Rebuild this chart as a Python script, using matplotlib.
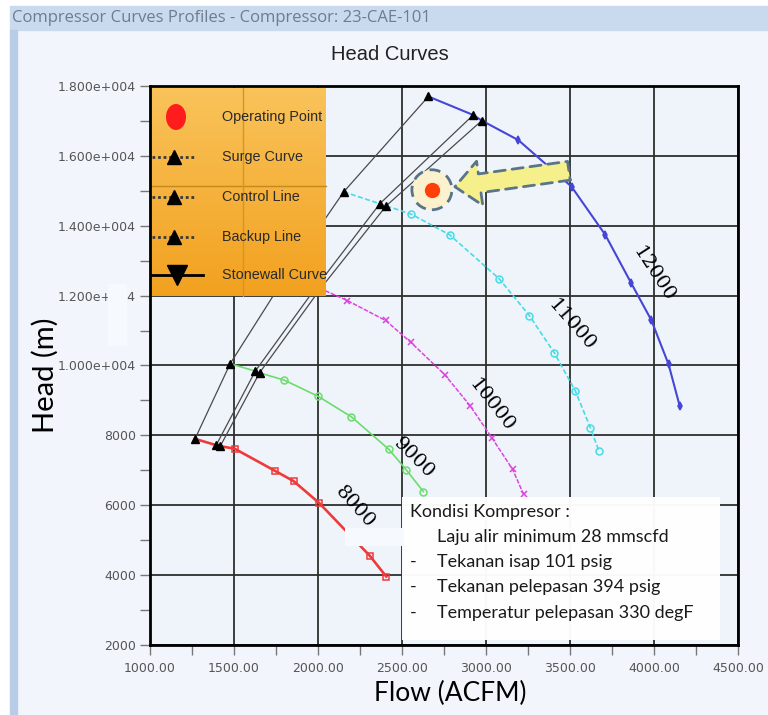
"""Compressor head curves (23-CAE-101): speed lines, surge / control / backup
lines, operating point and the condition note, drawn like the screenshot."""

import numpy as np
import matplotlib
matplotlib.use("Agg")
import matplotlib.pyplot as plt
from matplotlib.colors import LinearSegmentedColormap
from matplotlib.patches import Rectangle, Ellipse, FancyArrowPatch
from matplotlib.ticker import MultipleLocator, FuncFormatter

# ---- data ------------------------------------------------------------------
speeds = [8000, 9000, 10000, 11000, 12000]

# surge / control / backup points, one per speed line (ACFM, m)
surge_flow = [1268, 1477, 1800, 2153, 2657]
surge_head = [7900, 10050, 12500, 14970, 17700]
control_flow = [1394, 1627, 1990, 2368, 2924]
control_head = [7720, 9840, 12250, 14630, 17170]
backup_flow = [1418, 1652, 2015, 2406, 2975]
backup_head = [7690, 9790, 12200, 14570, 17010]

# marked points on each speed line, right of the backup point
flow_8000 = [1503, 1746, 1855, 2008, 2309, 2406]
head_8000 = [7620, 6980, 6690, 6060, 4550, 3960]
flow_9000 = [1800, 2000, 2199, 2422, 2526, 2627]
head_9000 = [9580, 9120, 8530, 7600, 7010, 6390]
flow_10000 = [2174, 2402, 2551, 2754, 2905, 3035, 3158, 3224]
head_10000 = [11860, 11290, 10670, 9740, 8850, 7930, 7030, 6310]
flow_11000 = [2556, 2784, 3079, 3258, 3407, 3532, 3621, 3673]
head_11000 = [14330, 13740, 12480, 11430, 10360, 9270, 8220, 7540]
flow_12000 = [3193, 3509, 3710, 3864, 3984, 4087, 4153]
head_12000 = [16450, 15120, 13740, 12360, 11300, 10030, 8840]

op_flow = 2678
op_head = 15030

legend_labels = ["Operating Point", "Surge Curve", "Control Line",
                 "Backup Line", "Stonewall Curve"]
note_title = "Kondisi Kompresor :"
note_lines = ["Laju alir minimum 28 mmscfd", "Tekanan isap 101 psig",
              "Tekanan pelepasan 394 psig", "Temperatur pelepasan 330 degF"]
note_bullets = ["", "-", "-", "-"]

# ---- styles -----------------------------------------------------------------
curve_flows = [flow_8000, flow_9000, flow_10000, flow_11000, flow_12000]
curve_heads = [head_8000, head_9000, head_10000, head_11000, head_12000]
curve_style = [
    dict(color="#EE3A3A", lw=1.9, ls="-", marker="s", ms=5, mfc="none"),
    dict(color="#6BDD6B", lw=1.2, ls="-", marker="o", ms=5, mfc="none"),
    dict(color="#DD44DD", lw=1.1, ls=(0, (3, 1)), marker="x", ms=5, mfc="none"),
    dict(color="#45DCE6", lw=1.2, ls=(0, (3, 1.5)), marker="o", ms=5, mfc="none"),
    dict(color="#4646D6", lw=1.5, ls="-", marker="d", ms=4, mfc="#4646D6"),
]
# where the rotated speed labels sit (flow, head, angle)
label_pos = [(2220, 5960, -48), (2573, 7350, -45), (3034, 8850, -52),
             (3510, 11160, -49), (4000, 12620, -57)]

BG = "#F2F6FC"
W, H = 768, 715
AX_L, AX_R, AX_T, AX_B = 150, 738, 86, 645   # plot box in screenshot pixels
fig = plt.figure(figsize=(7.68, 7.15), dpi=100, facecolor=BG)


def fig_rect(x0, y0, x1, y1, **kw):
    """rectangle given in screenshot pixels (top-left origin)."""
    fig.patches.append(Rectangle((x0 / W, 1 - y1 / H), (x1 - x0) / W, (y1 - y0) / H,
                                 transform=fig.transFigure, **kw))


def axp(px, py):
    """screenshot pixel -> axes fraction."""
    return (px - AX_L) / (AX_R - AX_L), (AX_B - py) / (AX_B - AX_T)


# window chrome
fig_rect(0, 0, W, 6, color="white", zorder=0)
fig_rect(0, 0, 10, H, color="white", zorder=0)
fig_rect(10, 6, W, 30, color="#C9D9EE", zorder=0)
fig_rect(10, 30, 17, H, color="#B8CCE8", zorder=0)
fig.text(12 / W, 1 - 18 / H, "Compressor Curves Profiles - Compressor: 23-CAE-101",
         fontsize=12, family="Open Sans", color="#6F7C8D", va="center")
fig.text(390 / W, 1 - 55 / H, "Head Curves", fontsize=14.5, family="Liberation Sans",
         color="#222222", ha="center", va="center")

ax = fig.add_axes([AX_L / W, (H - AX_B) / H, (AX_R - AX_L) / W, (AX_B - AX_T) / H])
ax.set_facecolor("#EFF4FB")
ax.set_xlim(1000, 4500)
ax.set_ylim(2000, 18000)
ax.xaxis.set_major_locator(MultipleLocator(500))
ax.xaxis.set_minor_locator(MultipleLocator(250))
ax.yaxis.set_major_locator(MultipleLocator(2000))
ax.yaxis.set_minor_locator(MultipleLocator(1000))
ax.xaxis.set_major_formatter(FuncFormatter(lambda v, p: f"{v:.2f}"))


def head_fmt(v, p):
    if v >= 10000:
        e = int(np.floor(np.log10(v)))
        return f"{v / 10 ** e:.3f}e+{e:03d}"
    return f"{v:.0f}"


ax.yaxis.set_major_formatter(FuncFormatter(head_fmt))
ax.tick_params(which="both", direction="out", length=7, width=1, color="#777777")
ax.tick_params(axis="x", labelsize=9, labelcolor="#555555", pad=5)
ax.tick_params(axis="y", labelsize=9, labelcolor="#555555", pad=3)
for s in ax.spines.values():
    s.set_linewidth(2)
    s.set_color("black")
    s.set_zorder(11)
ax.grid(True, which="major", color="#2E2E2E", lw=1.3)
ax.set_axisbelow(True)

# speed lines: surge -> control -> backup -> marked points
for i, sp in enumerate(speeds):
    fx = [surge_flow[i], control_flow[i], backup_flow[i]] + curve_flows[i]
    hy = [surge_head[i], control_head[i], backup_head[i]] + curve_heads[i]
    st = curve_style[i]
    ax.plot(fx, hy, color=st["color"], lw=st["lw"], ls=st["ls"], marker=st["marker"],
            ms=st["ms"], mfc=st["mfc"], mec=st["color"], mew=1.1,
            markevery=list(range(3, len(fx))), zorder=3)
    lx, ly, rot = label_pos[i]
    ax.text(lx, ly, str(sp), rotation=rot, fontsize=14, family="DejaVu Serif",
            ha="center", va="center", rotation_mode="anchor", zorder=4)

# surge, control and backup lines across the speeds
for fx, hy in [(surge_flow, surge_head), (control_flow, control_head),
               (backup_flow, backup_head)]:
    ax.plot(fx, hy, color="#4A4A4A", lw=0.9, marker="^", ms=6, mfc="black",
            mec="black", zorder=4)

# operating point with dashed ring and the pointing arrow
ox, oy = ax.transData.transform((op_flow, op_head))
inv = ax.transData.inverted()
rx = inv.transform((ox + 20, oy))[0] - op_flow
ry = inv.transform((ox, oy + 20))[1] - op_head
ax.add_patch(Ellipse((op_flow, op_head), 2 * rx, 2 * ry, fc="#FBF1CC", ec="#587387",
                     lw=2, ls=(0, (4, 2.5)), zorder=5))
ax.plot([op_flow], [op_head], "o", color="#FF3F0A", ms=10, zorder=6)
tail = inv.transform((ox + 137, oy + 19))
tip = inv.transform((ox + 23, oy + 3))
ax.add_patch(FancyArrowPatch(tail, tip,
                             arrowstyle="simple,head_length=0.9,head_width=1.6,tail_width=0.68",
                             mutation_scale=20, shrinkA=0, shrinkB=0, fc="#F6F08C",
                             ec="#5A7488", lw=2, ls=(0, (4, 2.5)), zorder=5))

# legend box (orange gradient, drawn by hand to match the screenshot)
lx0, ly1 = axp(151, 88)
lx1, ly0 = axp(326, 296)
grad = LinearSegmentedColormap.from_list("leg", ["#F2A11F", "#F9C35A"])
ax.imshow(np.linspace(0, 1, 64).reshape(-1, 1), cmap=grad, origin="lower",
          extent=[lx0, lx1, ly0, ly1], transform=ax.transAxes, aspect="auto",
          zorder=8, interpolation="bilinear")
ax.plot([lx0, lx1], [axp(0, 186)[1]] * 2, transform=ax.transAxes, color="#C7891E",
        lw=1, zorder=8.5)
ax.plot([axp(243, 0)[0]] * 2, [ly0, ly1], transform=ax.transAxes, color="#D9941F",
        lw=1, zorder=8.5)
row_y = [117, 157, 197, 237, 275]
cx, cy = axp(176, row_y[0])
ax.add_patch(Ellipse((cx, cy), 20 / (AX_R - AX_L), 26 / (AX_B - AX_T),
                     transform=ax.transAxes, fc="#FF1C1C", ec="none", zorder=9))
for py in row_y[1:4]:
    xa, ya = axp(152, py)
    xb, _ = axp(196, py)
    ax.plot([xa, xb], [ya, ya], transform=ax.transAxes, ls=(0, (1, 1)), lw=2,
            color="#3A3A3A", zorder=9)
    ax.plot([axp(174, py)[0]], [ya], transform=ax.transAxes, marker="^", ms=10,
            color="black", ls="none", zorder=9)
xa, ya = axp(152, row_y[4])
xb, _ = axp(203, row_y[4])
ax.plot([xa, xb], [ya, ya], transform=ax.transAxes, lw=2, color="black", zorder=9)
ax.plot([axp(177, row_y[4])[0]], [ya], transform=ax.transAxes, marker="v", ms=15,
        color="black", ls="none", zorder=9)
for lab, py in zip(legend_labels, row_y):
    tx, ty = axp(222, py)
    ax.text(tx, ty, lab, transform=ax.transAxes, fontsize=10.4, family="Liberation Sans",
            va="center", color="#2A2A2A", zorder=10)
ax.set_xlim(1000, 4500)
ax.set_ylim(2000, 18000)

# condition note
ax.add_patch(Rectangle((0.4286, 0.009), 0.541, 0.256, transform=ax.transAxes,
                       fc="white", ec="none", alpha=0.97, zorder=7))
ax.add_patch(Rectangle((0.3316, 0.177), 0.10, 0.032, transform=ax.transAxes,
                       fc="#F6F9FD", ec="none", zorder=7))
ax.text(0.442, 0.238, note_title, transform=ax.transAxes, fontsize=13, family="Lato",
        va="center", color="#1A1A1A", zorder=9)
ys = [0.193, 0.148, 0.104, 0.057]
for b, line, y in zip(note_bullets, note_lines, ys):
    ax.text(0.442, y, b, transform=ax.transAxes, fontsize=13, family="Lato",
            va="center", color="#1A1A1A", zorder=9)
    ax.text(0.488, y, line, transform=ax.transAxes, fontsize=13, family="Lato",
            va="center", color="#1A1A1A", zorder=9)

# the pasted axis-title box hides part of one tick label in the screenshot
fig_rect(108, 284, 126, 345, color="#F6F9FD", zorder=1)

# axis titles
fig.text(45 / W, 1 - 375 / H, "Head (m)", rotation=90, fontsize=21, family="Lato",
         ha="center", va="center", color="black")
fig.text(450 / W, 1 - 693 / H, "Flow (ACFM)", fontsize=19, family="Lato",
         ha="center", va="center", color="black")

fig.savefig("out.png", dpi=100, facecolor=BG)
